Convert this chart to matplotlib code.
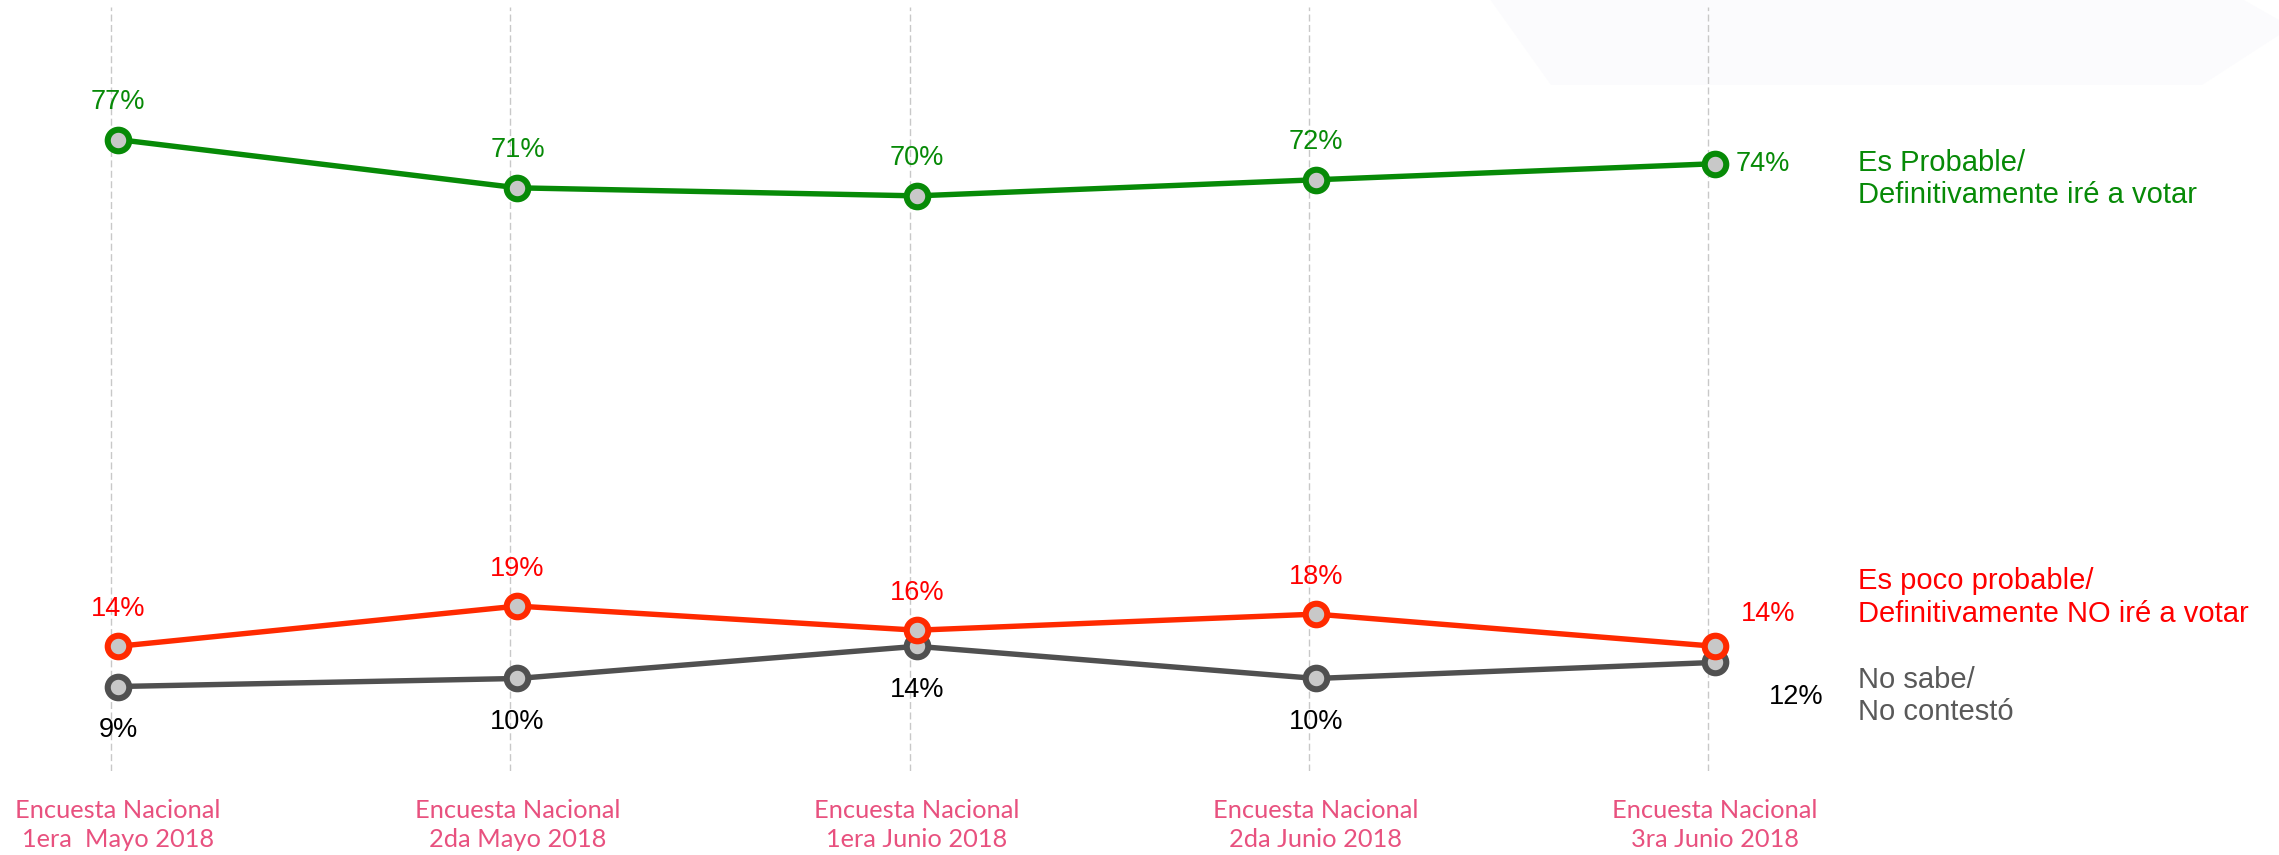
import matplotlib
matplotlib.use("Agg")
import matplotlib.pyplot as plt
from matplotlib.patches import Polygon
from matplotlib.transforms import ScaledTranslation

# survey waves and results (%)
waves = [
    "Encuesta Nacional\n1era  Mayo 2018",
    "Encuesta Nacional\n2da Mayo 2018",
    "Encuesta Nacional\n1era Junio 2018",
    "Encuesta Nacional\n2da Junio 2018",
    "Encuesta Nacional\n3ra Junio 2018",
]
probable = [77, 71, 70, 72, 74]
poco_probable = [14, 19, 16, 18, 14]
no_sabe = [9, 10, 14, 10, 12]

names = [
    "Es Probable/\nDefinitivamente iré a votar",
    "Es poco probable/\nDefinitivamente NO iré a votar",
    "No sabe/\nNo contestó",
]

GREEN = "#078a07"
RED_LINE = "#ff2a00"
RED_TEXT = "#ff0000"
GREY_LINE = "#505050"
GREY_TEXT = "#595959"
PINK = "#e8517f"
FACE = "#c8c8c8"

plt.rcParams["font.family"] = ["Liberation Sans", "DejaVu Sans"]

fig = plt.figure(figsize=(22.79, 8.55), dpi=100)
ax = fig.add_axes([0, 0.098, 1, 0.894])

# faint decorative shape in the top right corner, behind the axes
shape_px = [(1487, -5), (2235, -5), (2279, 20), (2279, 35), (2202, 85), (1551, 85)]
fig.patches.append(Polygon([(x / 2279, 1 - y / 855) for x, y in shape_px],
                           closed=True, transform=fig.transFigure,
                           facecolor="#fbfbfd", edgecolor="none", zorder=-1))

x = list(range(len(waves)))

# dashed verticals, drawn a little left of the markers like the original
shift = ScaledTranslation(-7 / 100, 0, fig.dpi_scale_trans)
for xi in x:
    vl = ax.axvline(xi, color="#c8c8c8", linewidth=1.0, linestyle=(0, (5, 2.5)), zorder=1)
    vl.set_transform(vl.get_transform() + shift)

line_kw = dict(linewidth=3.9, marker="o", markersize=15.5, markeredgewidth=4.4,
               markerfacecolor=FACE)
ax.plot(x, probable, color=GREEN, zorder=3, **line_kw)
ax.plot(x, no_sabe, color=GREY_LINE, zorder=3, **line_kw)
ax.plot(x, poco_probable, color=RED_LINE, zorder=4, **line_kw)

lab_kw = dict(textcoords="offset points", ha="center", va="center", fontsize=19.5)
last = len(x) - 1
for i, v in enumerate(probable):
    off = (34, 0) if i == last else (0, 27)
    ax.annotate(f"{v}%", (i, v), xytext=off, color=GREEN, **lab_kw)
for i, v in enumerate(poco_probable):
    off = (38, 23) if i == last else (0, 27)
    ax.annotate(f"{v}%", (i, v), xytext=off, color=RED_TEXT, **lab_kw)
for i, v in enumerate(no_sabe):
    off = (58, -25) if i == last else (0, -31.5)
    ax.annotate(f"{v}%", (i, v), xytext=off, color="black", **lab_kw)

# series names at the right
leg_kw = dict(textcoords="offset points", ha="left", va="center", fontsize=21,
              linespacing=1.2)
ax.annotate(names[0], (last, probable[-1]), xytext=(103, -11), color=GREEN, **leg_kw)
ax.annotate(names[1], (last, poco_probable[-1]), xytext=(103, 35), color=RED_TEXT, **leg_kw)
ax.annotate(names[2], (last, no_sabe[-1]), xytext=(103, -24), color=GREY_TEXT, **leg_kw)

ax.set_xlim(-0.296, 5.412)
ax.set_ylim(-1.53, 93.5)
ax.set_xticks(x)
ax.set_xticklabels(waves, color=PINK, fontsize=18.3, family=["Lato", "DejaVu Sans"],
                   linespacing=1.33, multialignment="center")
ax.tick_params(axis="x", length=0, pad=20)
ax.set_yticks([])
for s in ax.spines.values():
    s.set_visible(False)
ax.patch.set_alpha(0)

fig.savefig("out.png", dpi=100)
